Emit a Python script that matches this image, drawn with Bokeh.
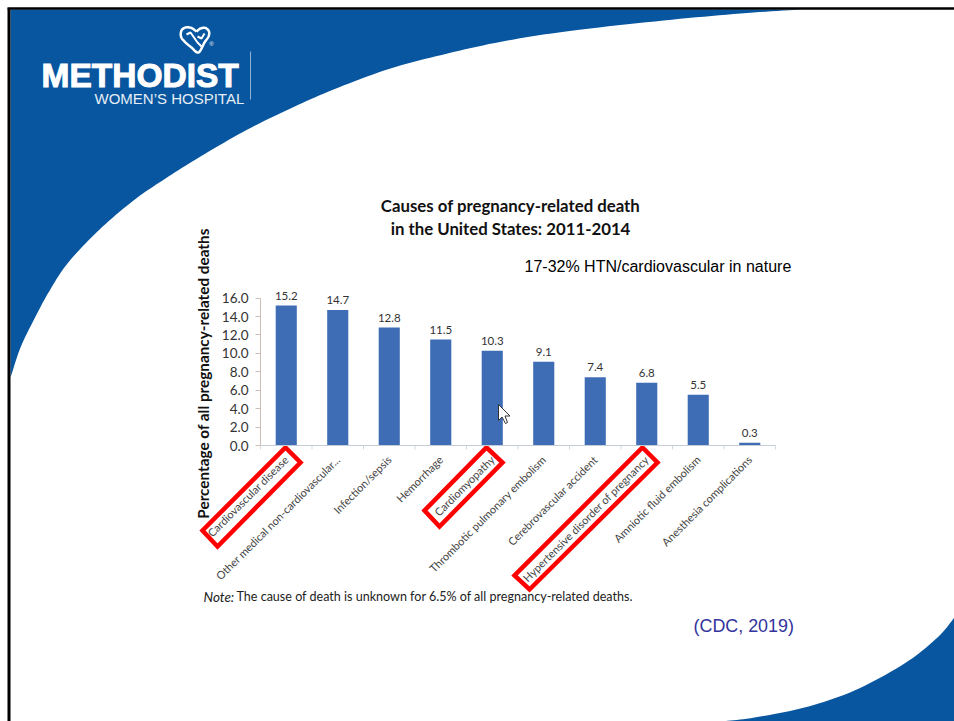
import math

import numpy as np
from bokeh.core.properties import value
from bokeh.embed import file_html
from bokeh.models import ColumnDataSource, FactorRange, LabelSet, NumeralTickFormatter, Range1d
from bokeh.plotting import figure
from bokeh.resources import INLINE

# Chart data
causes = [
    "Cardiovascular disease",
    "Other medical non-cardiovascular...",
    "Infection/sepsis",
    "Hemorrhage",
    "Cardiomyopathy",
    "Thrombotic pulmonary embolism",
    "Cerebrovascular accident",
    "Hypertensive disorder of pregnancy",
    "Amniotic fluid embolism",
    "Anesthesia complications",
]
shares = [15.2, 14.7, 12.8, 11.5, 10.3, 9.1, 7.4, 6.8, 5.5, 0.3]
y_ticks = [0, 2, 4, 6, 8, 10, 12, 14, 16]

title_lines = ["Causes of pregnancy-related death", "in the United States: 2011-2014"]
y_title = "Percentage of all pregnancy-related deaths"
note_lead = "Note:"
note_body = "The cause of death is unknown for 6.5% of all pregnancy-related deaths."
annotation = "17-32% HTN/cardiovascular in nature"
citation = "(CDC, 2019)"

# Slide artwork outlines, in page pixels
BLUE = "#07569f"
top_edge_x = [10, 20, 33, 48, 67, 98, 133, 165, 200, 247, 290, 333, 390, 447, 507, 573, 663, 740, 800]
top_edge_y = [377, 347, 320, 292, 263, 230, 200, 178, 156, 129, 108, 89, 68, 53, 40, 30, 20, 13, 9]
low_edge_x = [954, 937, 904, 854, 804, 754, 721]
low_edge_y = [617, 637, 663, 690, 707, 717, 721]
red_boxes = [
    ([285, 300, 217, 202], [447, 462, 546, 530]),
    ([486, 502, 439, 424], [447, 462, 526, 510]),
    ([642, 657, 529, 514], [447, 462, 589, 575]),
]
heart_x = [196, 200, 205, 208.5, 208, 204, 198, 191, 184, 180.5, 181, 185, 191, 196]
heart_y = [31, 28, 27.5, 31, 36, 42, 52, 47, 41, 36, 30, 27, 27.5, 31]
pointer_x = [498, 498, 501.5, 505, 507, 504.5, 509.5]
pointer_y = [404, 420, 416.5, 423, 422, 415.5, 415.5]


def smooth(xs, ys, steps=10):
    """Catmull-Rom path through an outline's anchor points."""
    pts = np.column_stack([xs, ys]).astype(float)
    pts = np.vstack([2 * pts[0] - pts[1], pts, 2 * pts[-1] - pts[-2]])
    out = []
    for i in range(1, len(pts) - 2):
        p0, p1, p2, p3 = pts[i - 1], pts[i], pts[i + 1], pts[i + 2]
        for t in np.linspace(0, 1, steps, endpoint=False):
            out.append(0.5 * (2 * p1 + (p2 - p0) * t + (2 * p0 - 5 * p1 + 4 * p2 - p3) * t ** 2
                              + (3 * p1 - p0 - 3 * p2 + p3) * t ** 3))
    out.append(pts[-2])
    out = np.array(out)
    return out[:, 0].tolist(), out[:, 1].tolist()


def page_layer(**kwargs):
    """A figure covering the whole window whose data units are page pixels."""
    layer = figure(
        width=954, height=721, frame_width=954, frame_height=721,
        output_backend="svg", toolbar_location=None,
        x_range=Range1d(0, 954), y_range=Range1d(721, 0),
        min_border=0, min_border_left=0, min_border_right=0, min_border_top=0, min_border_bottom=0,
        outline_line_color=None, x_axis_location=None, y_axis_location=None, **kwargs,
    )
    layer.grid.visible = False
    return layer


OVERLAY = {"position": "absolute", "left": "0px", "top": "0px"}

# Bottom layer: slide background and free-standing text
slide = page_layer(background_fill_color="white")

tx, ty = smooth(top_edge_x, top_edge_y)
slide.patch(tx + [800, 10], ty + [9, 9], fill_color=BLUE, line_color=None)
lx, ly = smooth(low_edge_x, low_edge_y)
slide.patch(lx + [954], ly + [721], fill_color=BLUE, line_color=None)
slide.line([8.5, 8.5], [721, 8], line_color="black", line_width=3)
slide.line([7, 954], [8, 8], line_color="black", line_width=2.5)

slide.text([41], [75], text=["METHODIST"], text_color="white", text_outline_color="white",
           text_font=value("Liberation Sans"), text_font_style="bold", text_font_size="33.5px",
           text_baseline="alphabetic")
slide.text([94], [98], text=["WOMEN\u2019S HOSPITAL"], text_color="#e6eef6", text_font=value("Liberation Sans"),
           text_font_size="15px", text_baseline="alphabetic")
slide.line([250, 250], [51, 99], line_color="#8fb2d6", line_width=1)
hx, hy = smooth(heart_x, heart_y)
slide.line(hx, hy, line_color="white", line_width=2.5)
slide.line([186, 190, 197, 201], [34, 32, 42, 46], line_color="white", line_width=2)
slide.line([197, 201, 204], [36, 38, 33], line_color="white", line_width=2)
slide.text([211], [43], text=["\u00ae"], text_color="white", text_font=value("Liberation Sans"),
           text_font_size="6px", text_align="center", text_baseline="middle")

slide.text([510, 510], [205, 228], text=title_lines, text_color="#111111", text_font=value("Lato"),
           text_font_style="bold", text_font_size="16.8px", text_align="center", text_baseline="middle")
slide.text([202], [373], text=[y_title], angle=math.pi / 2, text_color="#111111", text_font=value("Lato"),
           text_font_style="bold", text_font_size="15.3px", text_align="center", text_baseline="middle")
slide.text([203], [596], text=[note_lead], text_color="#222222", text_font=value("Lato"),
           text_font_style="italic", text_font_size="13.5px", text_baseline="middle")
slide.text([236], [596], text=[note_body], text_color="#222222", text_font=value("Lato"),
           text_font_size="12.55px", text_baseline="middle")
slide.text([524], [266], text=[annotation], text_color="black", text_font=value("Liberation Sans"),
           text_font_size="16px", text_baseline="middle")
slide.text([693], [625], text=[citation], text_color="#33339c", text_font=value("Liberation Sans"),
           text_font_size="17.9px", text_baseline="middle")

# Faint separators under the category axis, one between each pair of categories
axis_left, axis_width = 260, 515
separators = [axis_left + axis_width * i / len(causes) for i in range(len(causes) + 1)]
slide.segment(separators, [445] * len(separators), separators, [449] * len(separators),
              line_color="#d3d8de", line_width=1)

# Call-out boxes around three of the category labels
for bx, by in red_boxes:
    slide.patch(bx, by, fill_color=None, line_color="red", line_width=4.5, line_join="miter")

# Middle layer: the bar chart, with headroom above 16 for the value labels
chart = figure(
    width=954, height=721, frame_width=axis_width, frame_height=175,
    output_backend="svg", toolbar_location=None,
    x_range=FactorRange(factors=causes, range_padding=0, factor_padding=0),
    y_range=Range1d(0, 19),
    min_border_left=axis_left, min_border_right=179, min_border_top=270, min_border_bottom=276,
    outline_line_color=None, background_fill_alpha=0, border_fill_alpha=0,
    styles=OVERLAY,
)
chart.grid.visible = False

source = ColumnDataSource(dict(cause=causes, share=shares, label=[f"{v:.1f}" for v in shares]))
chart.vbar(x="cause", top="share", width=0.41, bottom=0, source=source, fill_color="#3f6db5", line_color=None)
chart.add_layout(LabelSet(x="cause", y="share", text="label", source=source, y_offset=6,
                          text_align="center", text_baseline="bottom", text_font_size="11.5px",
                          text_font=value("Lato"), text_color="#333333"))

chart.yaxis.ticker = y_ticks
chart.yaxis.bounds = (0, 16)
chart.yaxis.formatter = NumeralTickFormatter(format="0.0")
chart.yaxis.major_label_text_font = "Lato"
chart.yaxis.major_label_text_font_size = "13.5px"
chart.yaxis.major_label_text_color = "#333333"
chart.yaxis.major_label_standoff = 7
chart.yaxis.major_tick_in = 0
chart.yaxis.major_tick_out = 5
chart.yaxis.minor_tick_line_color = None
chart.yaxis.axis_line_color = "#cbbfb8"
chart.yaxis.major_tick_line_color = "#cbbfb8"

chart.xaxis.major_label_orientation = math.radians(45)
chart.xaxis.major_label_text_font = "Lato"
chart.xaxis.major_label_text_font_size = "11px"
chart.xaxis.major_label_text_color = "#444444"
chart.xaxis.major_label_standoff = 6
chart.xaxis.major_tick_line_color = None
chart.xaxis.axis_line_color = "#c4ccd6"

# Top layer: mouse pointer resting on the fifth bar
pointer = page_layer(background_fill_alpha=0, border_fill_alpha=0, styles=OVERLAY)
pointer.patch(pointer_x, pointer_y, fill_color="white", line_color="#333333", line_width=1)

# The layers stay separate roots so their frames are laid out independently
open("out.html", "w").write(file_html([slide, chart, pointer], INLINE))
